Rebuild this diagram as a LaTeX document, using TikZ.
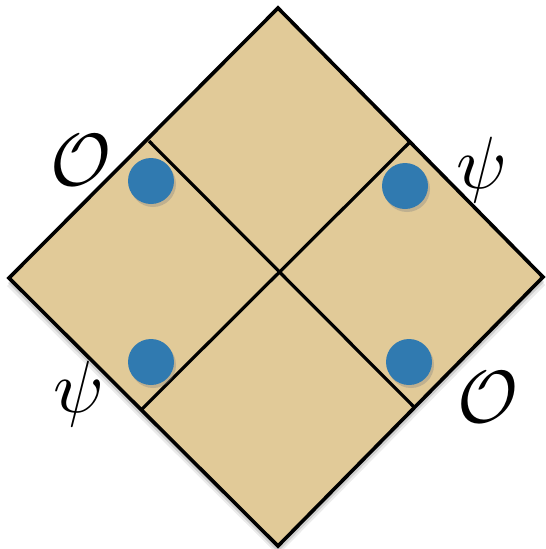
\documentclass[tikz,border=0pt]{standalone}
\usetikzlibrary{shadows}
\definecolor{tan}{RGB}{225,202,152}
\definecolor{dotblue}{RGB}{48,122,176}
\tikzset{
  edge/.style={line width=3.6pt, line join=miter},
  inner/.style={line width=3.2pt},
  dotnode/.style={circle, fill=dotblue, minimum size=46pt, inner sep=0pt,
    drop shadow={shadow xshift=2pt, shadow yshift=-3pt, opacity=0.35}},
  lab/.style={scale=7.4, inner sep=0pt}
}
\begin{document}
\begin{tikzpicture}[x=1pt, y=-1pt]
\useasboundingbox (0,0) rectangle (546,549);
\coordinate (T) at (278,8);
\coordinate (L) at (9,278);
\coordinate (R) at (543,277);
\coordinate (B) at (278,546);
\coordinate (tl) at (149,141);
\coordinate (tr) at (410,142);
\coordinate (bl) at (141,410);
\coordinate (br) at (415,408);
% shadow of the diamond
\fill[black, opacity=0.12] ([yshift=-5pt]T) -- ([xshift=-1pt,yshift=-5pt]L) -- ([yshift=-6pt]B) -- ([xshift=1pt,yshift=-5pt]R) -- cycle;
\fill[black, opacity=0.08] ([yshift=-8pt]T) -- ([xshift=-2pt,yshift=-8pt]L) -- ([yshift=-9pt]B) -- ([xshift=2pt,yshift=-8pt]R) -- cycle;
\filldraw[fill=tan, edge] (T) -- (L) -- (B) -- (R) -- cycle;
\draw[inner] (tl) -- (br);
\draw[inner] (tr) -- (bl);
\node[dotnode] (d1) at (151,181) {};
\node[dotnode] (d2) at (405,186) {};
\node[dotnode] (d3) at (151,362) {};
\node[dotnode] (d4) at (409,362) {};
\node[lab] (o1) at (81,160) {$\mathcal{O}$};
\node[lab] (p1) at (482,170) {$\psi$};
\node[lab] (p2) at (79,394) {$\psi$};
\node[lab] (o2) at (488,397) {$\mathcal{O}$};
\end{tikzpicture}
\end{document}
